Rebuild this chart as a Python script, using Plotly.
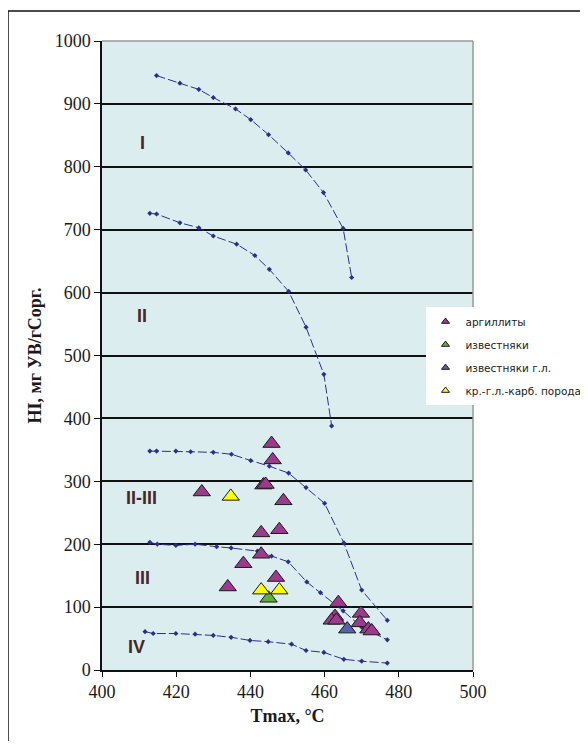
import plotly.graph_objects as go

# Kerogen type curves (Tmax, HI)
c1_x = [414.7, 421, 426.1, 430, 436, 440.1, 444.9, 450.2, 454.9, 459.7, 465, 467.3]
c1_y = [945, 933, 923, 910, 892, 875, 851, 822, 795, 759, 702, 624]
c2_x = [412.9, 414.7, 421, 426.1, 430, 436.3, 441.2, 445.1, 450.3, 455, 459.8, 461.9]
c2_y = [726, 725, 711, 703, 690, 677, 659, 637, 602, 545, 470, 388]
c23_x = [412.9, 414.7, 419.9, 423.9, 430, 434.9, 440.1, 445.1, 450.3, 455, 460, 465.2, 470, 476.9]
c23_y = [348, 348, 348, 347, 346, 343, 333, 324, 313, 290, 265, 202, 127, 79]
c3_x = [412.9, 414.9, 419.9, 425.1, 430.9, 434.8, 441.9, 445.7, 450.2, 455.2, 458.9, 465, 470, 476.9]
c3_y = [203, 200, 198, 200, 196, 194, 189, 181, 172, 140, 123, 94, 68, 48]
c4_x = [411.6, 413.8, 419.9, 425.1, 430, 434.8, 439.9, 444.8, 451.1, 455, 459.8, 465.2, 470, 476.9]
c4_y = [61, 58, 58, 57, 55, 52, 47, 45, 41, 31, 28, 17, 14, 11]

# Samples
arg_x = [445.7, 446.0, 443.5, 444.1, 426.9, 448.9, 442.9, 447.8, 442.9, 438.1, 446.9, 433.9,
         463.7, 462.8, 461.9, 463.2, 469.8, 469.5, 471.8, 472.7]
arg_y = [360, 334, 294, 295, 283, 269, 218, 223, 184, 169, 147, 132,
         107, 85, 79, 79, 90, 75, 65, 62]
lime_x = [444.9]
lime_y = [114]
limecl_x = [466.1]
limecl_y = [65]
mix_x = [434.7, 442.9, 447.8]
mix_y = [276, 127, 127]

region_labels = ["I", "II", "II-III", "III", "IV"]
region_x = [410.8, 410.8, 410.6, 410.9, 409.4]
region_y = [838, 563, 273, 146, 36]

x_ticks = [400, 420, 440, 460, 480, 500]
y_ticks = [0, 100, 200, 300, 400, 500, 600, 700, 800, 900, 1000]

fig = go.Figure()

curve_color = "#2e2e8a"
for cx, cy in [(c1_x, c1_y), (c2_x, c2_y), (c23_x, c23_y), (c3_x, c3_y), (c4_x, c4_y)]:
    fig.add_trace(go.Scatter(
        x=cx, y=cy, mode="lines+markers", showlegend=False, hoverinfo="skip",
        line=dict(color=curve_color, width=1, dash="9px,3px"),
        marker=dict(symbol="diamond", size=4, color=curve_color)))

def tri(name, xs, ys, color, grp):
    fig.add_trace(go.Scatter(
        x=xs, y=ys, mode="markers", name=name, showlegend=False,
        marker=dict(symbol="triangle-up", size=15, color=color,
                    line=dict(color="#1a1a1a", width=1))))
    fig.add_trace(go.Scatter(
        x=[None], y=[None], mode="markers", name=name, legendgroup=grp,
        marker=dict(symbol="triangle-up", size=7, color=color,
                    line=dict(color="#1a1a1a", width=1))))

tri("аргиллиты", arg_x, arg_y, "#9c3a8e", "g1")
tri("известняки", lime_x, lime_y, "#5fae3a", "g2")
tri("известняки г.л.", limecl_x, limecl_y, "#5b5fb0", "g3")
tri("кр.-г.л.-карб. порода", mix_x, mix_y, "#ffff00", "g4")

for t, xx, yy in zip(region_labels, region_x, region_y):
    fig.add_annotation(x=xx, y=yy, text="<b>" + t + "</b>", showarrow=False,
                       font=dict(family="Liberation Sans", size=18, color="#4a2626"))

# Outer chart frame
fig.add_shape(type="rect", xref="paper", yref="paper",
              x0=-0.2534, x1=1.4, y0=1.0477, y1=-0.2,
              line=dict(color="#111111", width=1.5), fillcolor="rgba(0,0,0,0)", layer="below")

fig.update_layout(
    width=580, height=733,
    margin=dict(l=94, r=115, t=33, b=71, autoexpand=False),
    paper_bgcolor="white",
    plot_bgcolor="#dcedf0",
    font=dict(family="Liberation Serif", size=18, color="#1a1a1a"),
    legend=dict(x=0.872, y=0.577, xanchor="left", yanchor="top",
                bgcolor="white", borderwidth=0,
                font=dict(family="DejaVu Sans", size=10.5, color="#222222"),
                itemsizing="trace", tracegroupgap=4, itemwidth=30),
    xaxis=dict(range=[400, 500], tickvals=x_ticks, ticks="outside", ticklen=5,
               tickcolor="#111111", showgrid=False, zeroline=False,
               showline=True, linecolor="#111111", linewidth=1.5, mirror=False,
               title=dict(text="<b>Tmax, °C</b>", font=dict(family="Liberation Serif", size=18), standoff=8),
               tickfont=dict(family="Liberation Serif", size=18)),
    yaxis=dict(range=[0, 1000], tickvals=y_ticks, ticks="outside", ticklen=6,
               tickcolor="#111111", showgrid=True, gridcolor="#111111", gridwidth=1.5,
               zeroline=False, showline=True, linecolor="#111111", linewidth=1.5,
               title=dict(text="<b>HI, мг УВ/гСорг.</b>", font=dict(family="Liberation Serif", size=18), standoff=8),
               tickfont=dict(family="Liberation Serif", size=18)),
)

# gray right/top plot border
fig.add_shape(type="line", xref="paper", yref="paper", x0=1, x1=1, y0=0, y1=1,
              line=dict(color="#999999", width=1.5))
fig.add_shape(type="line", xref="paper", yref="paper", x0=0, x1=1, y0=1, y1=1,
              line=dict(color="#999999", width=1.5))

fig.write_html("out.html")
